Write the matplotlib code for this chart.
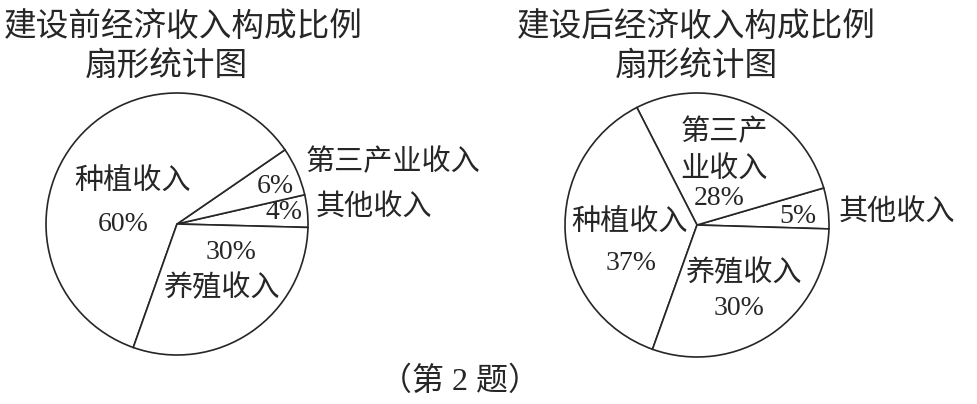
import matplotlib
matplotlib.use("Agg")
import matplotlib.pyplot as plt

plt.rcParams['font.family'] = ['Noto Sans CJK SC', 'DejaVu Sans']

W, H = 978, 404

# 建设前 / 建设后 (percent), drawn counter-clockwise from the right
categories = ["其他收入", "第三产业收入", "种植收入", "养殖收入"]
before_values = [4, 6, 60, 30]
after_values = [5, 28, 37, 30]

title_before = "建设前经济收入构成比例"
title_after = "建设后经济收入构成比例"
subtitle = "扇形统计图"
caption = "（第 2 题）"

ink = "#262626"
cjk = ['Noto Sans CJK SC', 'DejaVu Sans']
num = ['Liberation Serif', 'Noto Sans CJK SC']


def pie_axes(fig, cx, cy, r, half=1.9):
    # axes box in pixels, centred on the pie, 1 data unit = r pixels
    left = (cx - half * r) / W
    bottom = (H - cy - half * r) / H
    ax = fig.add_axes([left, bottom, 2 * half * r / W, 2 * half * r / H])
    return ax


def draw_pie(ax, values, start):
    ax.pie(values, startangle=start, counterclock=True, radius=1.0,
           colors=["white"] * len(values),
           wedgeprops=dict(edgecolor=ink, linewidth=1.2))
    ax.set_xlim(-1.9, 1.9)
    ax.set_ylim(-1.9, 1.9)
    ax.set_aspect("equal")
    ax.axis("off")


def pct(v):
    return f"{v}%"


fig = plt.figure(figsize=(W / 100, H / 100), dpi=100)
fig.patch.set_facecolor("white")

# left pie
ax1 = pie_axes(fig, 177, 224, 131)
draw_pie(ax1, before_values, -1.5)
lab = dict(ha="center", va="center", color=ink, fontsize=21, family=cjk)
nlab = dict(ha="center", va="center", color=ink, fontsize=20, family=num)
ax1.text(-0.336, 0.321, categories[2], **lab)
ax1.text(-0.412, 0.0, pct(before_values[2]), **nlab)
ax1.text(0.748, 0.290, pct(before_values[1]), **nlab)
ax1.text(0.817, 0.084, pct(before_values[0]), **nlab)
ax1.text(1.649, 0.473, categories[1], **lab)
ax1.text(1.504, 0.122, categories[0], **lab)
ax1.text(0.412, -0.221, pct(before_values[3]), **nlab)
ax1.text(0.336, -0.489, categories[3], **lab)

# right pie
ax2 = pie_axes(fig, 697, 225, 132)
draw_pie(ax2, after_values, -1.7)
ax2.text(0.205, 0.705, categories[1][:3], **lab)
ax2.text(0.205, 0.424, categories[1][3:], **lab)
ax2.text(0.167, 0.197, pct(after_values[1]), **nlab)
ax2.text(0.765, 0.068, pct(after_values[0]), **nlab)
ax2.text(1.515, 0.091, categories[0], **lab)
ax2.text(-0.508, 0.015, categories[2], **lab)
ax2.text(-0.5, -0.288, pct(after_values[2]), **nlab)
ax2.text(0.348, -0.364, categories[3], **lab)
ax2.text(0.318, -0.636, pct(after_values[3]), **nlab)

# titles
tkw = dict(ha="center", va="center", color=ink, fontsize=23.5, family=cjk)
fig.text(183 / W, 1 - 27 / H, title_before, **tkw)
fig.text(166 / W, 1 - 67 / H, subtitle, **tkw)
fig.text(696 / W, 1 - 27 / H, title_after, **tkw)
fig.text(696 / W, 1 - 67 / H, subtitle, **tkw)

fig.text(460 / W, 1 - 382 / H, caption, ha="center", va="center",
         color=ink, fontsize=23, family=num)

fig.savefig("out.png", dpi=100, facecolor="white")
